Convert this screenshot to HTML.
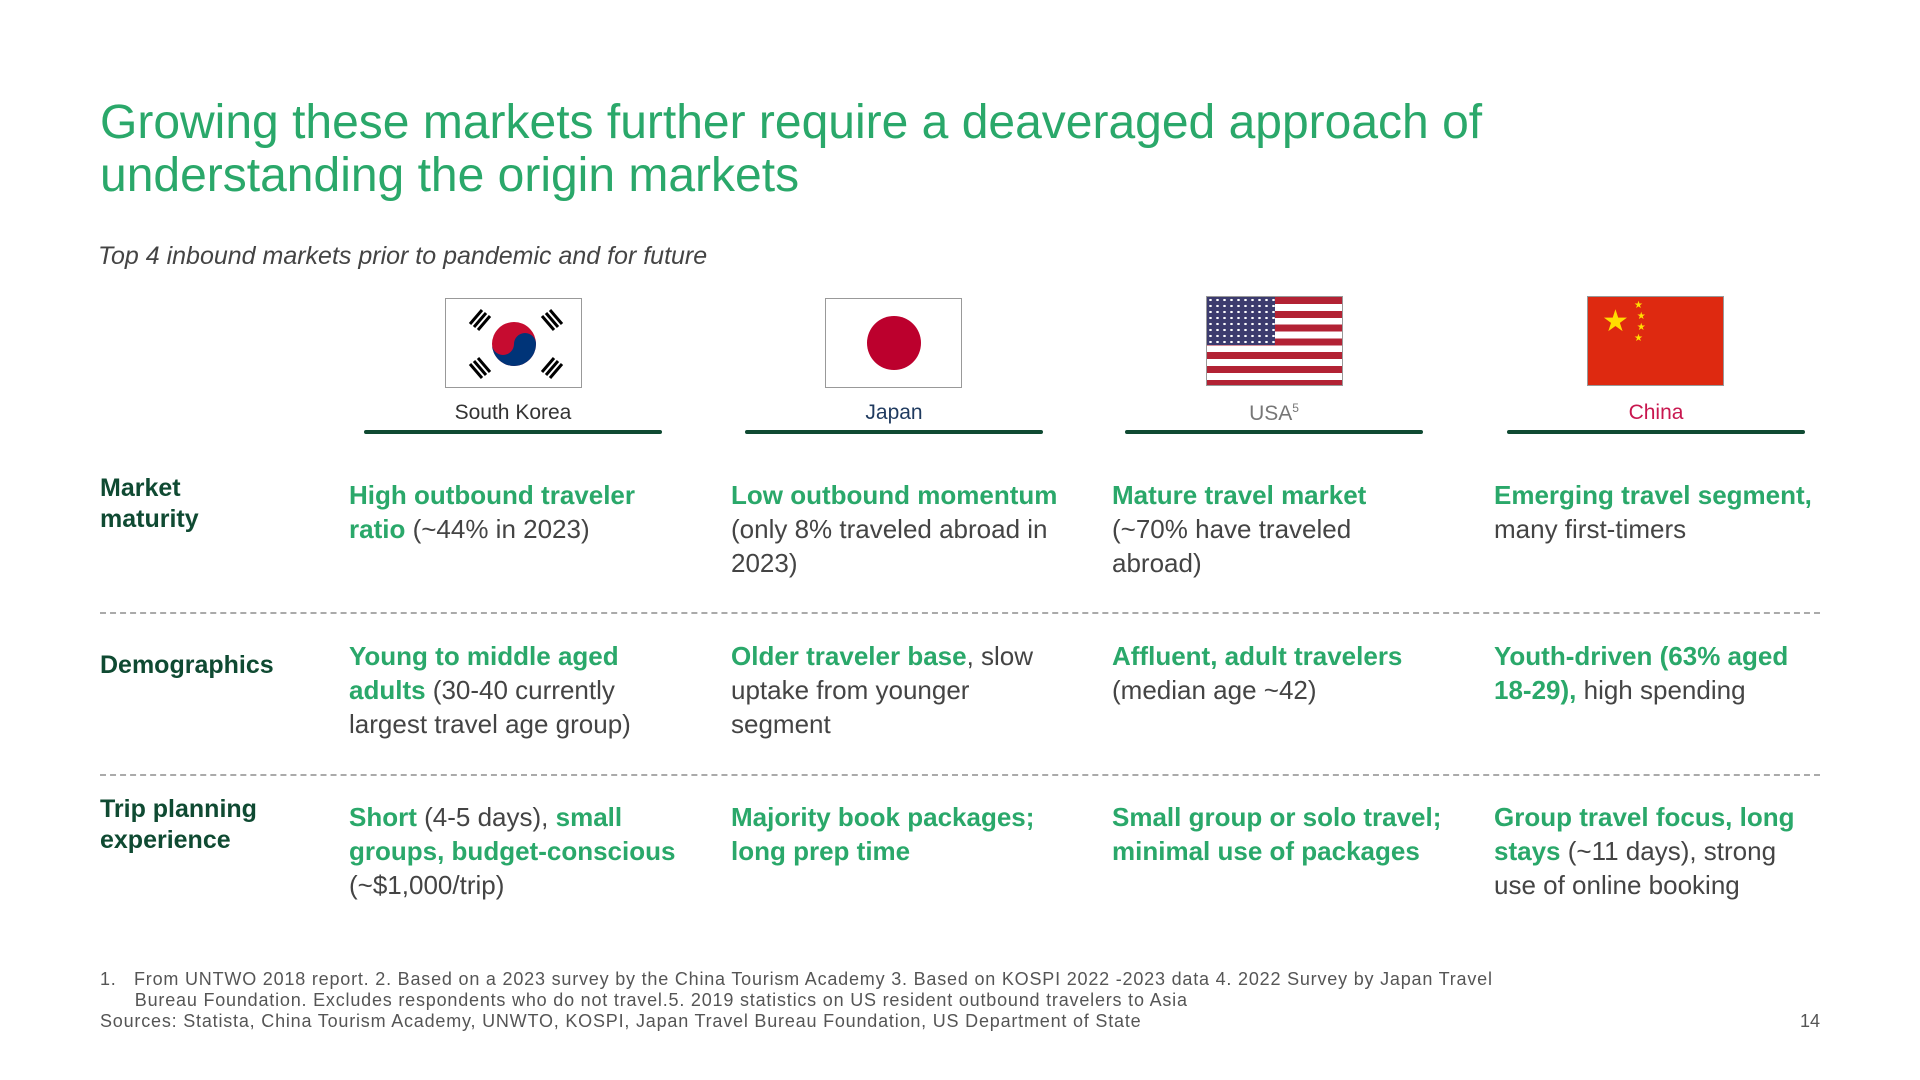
<!DOCTYPE html>
<html><head><meta charset="utf-8"><style>
body{margin:0;width:1920px;height:1080px;background:#fff;position:relative;overflow:hidden;font-family:"Liberation Sans",sans-serif;}
.a{position:absolute;white-space:nowrap;}
.t{color:#2aa86a;font-size:48px;line-height:53px;left:100px;top:96px;}
.sub{left:98px;top:242px;font-size:25px;font-style:italic;color:#444;}
.flag{position:absolute;width:137px;height:90px;border:1px solid #999;box-sizing:border-box;overflow:hidden;}
.lab{position:absolute;width:298px;text-align:center;font-size:21px;top:401px;}
.ul{position:absolute;height:4px;background:#0f4a32;border-radius:2px;top:430px;width:298px;}
.rl{left:100px;color:#0f4a32;font-weight:bold;font-size:25px;line-height:31px;}
.c{font-size:26px;line-height:34px;color:#444;}
.c b{color:#2aa86a;}
.dash{position:absolute;left:100px;width:1720px;border-top:2px dashed #aaa;height:0;}
.fn{font-size:18px;letter-spacing:0.8px;color:#555;line-height:21px;}
</style></head><body>
<div class="a t">Growing these markets further require a deaveraged approach of<br>understanding the origin markets</div>
<div class="a sub">Top 4 inbound markets prior to pandemic and for future</div>

<div class="flag" style="left:445px;top:298px;background:#fff">
<svg width="137" height="90" viewBox="0 0 137 90"><circle cx="68" cy="45" r="22" fill="#c60c30"/><path d="M46 45a22 22 0 0 0 44 0a11 11 0 0 0-22 0a11 11 0 0 1-22 0z" fill="#003478"/>
<g stroke="#000" stroke-width="3"><path d="M24 25l12-14M28 28l12-14M32 31l12-14"/><path d="M96 17l12 14M100 14l12 14M104 11l12 14"/><path d="M24 65l12 14M28 62l12 14M32 59l12 14"/><path d="M96 73l12-14M100 76l12-14M104 79l12-14"/></g></svg></div>
<div class="flag" style="left:825px;top:298px;background:#fff"><div style="position:absolute;left:41px;top:17px;width:54px;height:54px;border-radius:50%;background:#bc002d"></div></div>
<div class="flag" style="left:1206px;top:296px;background:repeating-linear-gradient(#b22234 0 7px,#fff 7px 13.8px)"><div style="position:absolute;left:0;top:0;width:68px;height:48px;background:#3c3b6e;background-image:radial-gradient(#fff 1.2px,transparent 1.5px);background-size:7px 6px"></div></div>
<div class="flag" style="left:1587px;top:296px;background:#de2910"><div style="position:absolute;left:14px;top:10px;color:#ffde00;font-size:30px;line-height:30px">★</div><div style="position:absolute;left:46px;top:3px;color:#ffde00;font-size:10px;line-height:11px">★<br>&nbsp;★<br>&nbsp;★<br>★</div></div>

<div class="lab" style="left:364px;color:#333">South Korea</div>
<div class="lab" style="left:745px;color:#1f3a5f">Japan</div>
<div class="lab" style="left:1125px;color:#777">USA<sup style="font-size:12px">5</sup></div>
<div class="lab" style="left:1507px;color:#c8174f">China</div>
<div class="ul" style="left:364px"></div><div class="ul" style="left:745px"></div><div class="ul" style="left:1125px"></div><div class="ul" style="left:1507px"></div>

<div class="a rl" style="top:473px">Market<br>maturity</div>
<div class="a c" style="left:349px;top:478px"><b>High outbound traveler<br>ratio</b> (~44% in 2023)</div>
<div class="a c" style="left:731px;top:478px"><b>Low outbound momentum</b><br>(only 8% traveled abroad in<br>2023)</div>
<div class="a c" style="left:1112px;top:478px"><b>Mature travel market</b><br>(~70% have traveled<br>abroad)</div>
<div class="a c" style="left:1494px;top:478px"><b>Emerging travel segment,</b><br>many first-timers</div>
<div class="dash" style="top:612px"></div>

<div class="a rl" style="top:650px">Demographics</div>
<div class="a c" style="left:349px;top:639px"><b>Young to middle aged<br>adults</b> (30-40 currently<br>largest travel age group)</div>
<div class="a c" style="left:731px;top:639px"><b>Older traveler base</b>, slow<br>uptake from younger<br>segment</div>
<div class="a c" style="left:1112px;top:639px"><b>Affluent, adult travelers</b><br>(median age ~42)</div>
<div class="a c" style="left:1494px;top:639px"><b>Youth-driven (63% aged<br>18-29),</b> high spending</div>
<div class="dash" style="top:774px"></div>

<div class="a rl" style="top:794px">Trip planning<br>experience</div>
<div class="a c" style="left:349px;top:800px"><b>Short</b> (4-5 days), <b>small<br>groups, budget-conscious</b><br>(~$1,000/trip)</div>
<div class="a c" style="left:731px;top:800px"><b>Majority book packages;<br>long prep time</b></div>
<div class="a c" style="left:1112px;top:800px"><b>Small group or solo travel;<br>minimal use of packages</b></div>
<div class="a c" style="left:1494px;top:800px"><b>Group travel focus, long<br>stays</b> (~11 days), strong<br>use of online booking</div>

<div class="a fn" style="left:100px;top:969px">1.&nbsp;&nbsp;&nbsp;From UNTWO 2018 report. 2. Based on a 2023 survey by the China Tourism Academy 3. Based on KOSPI 2022 -2023 data 4. 2022 Survey by Japan Travel<br>&nbsp;&nbsp;&nbsp;&nbsp;&nbsp;&nbsp;Bureau Foundation. Excludes respondents who do not travel.5. 2019 statistics on US resident outbound travelers to Asia<br>Sources: Statista, China Tourism Academy, UNWTO, KOSPI, Japan Travel Bureau Foundation, US Department of State</div>
<div class="a fn" style="left:1800px;top:1011px;letter-spacing:0">14</div>
</body></html>
